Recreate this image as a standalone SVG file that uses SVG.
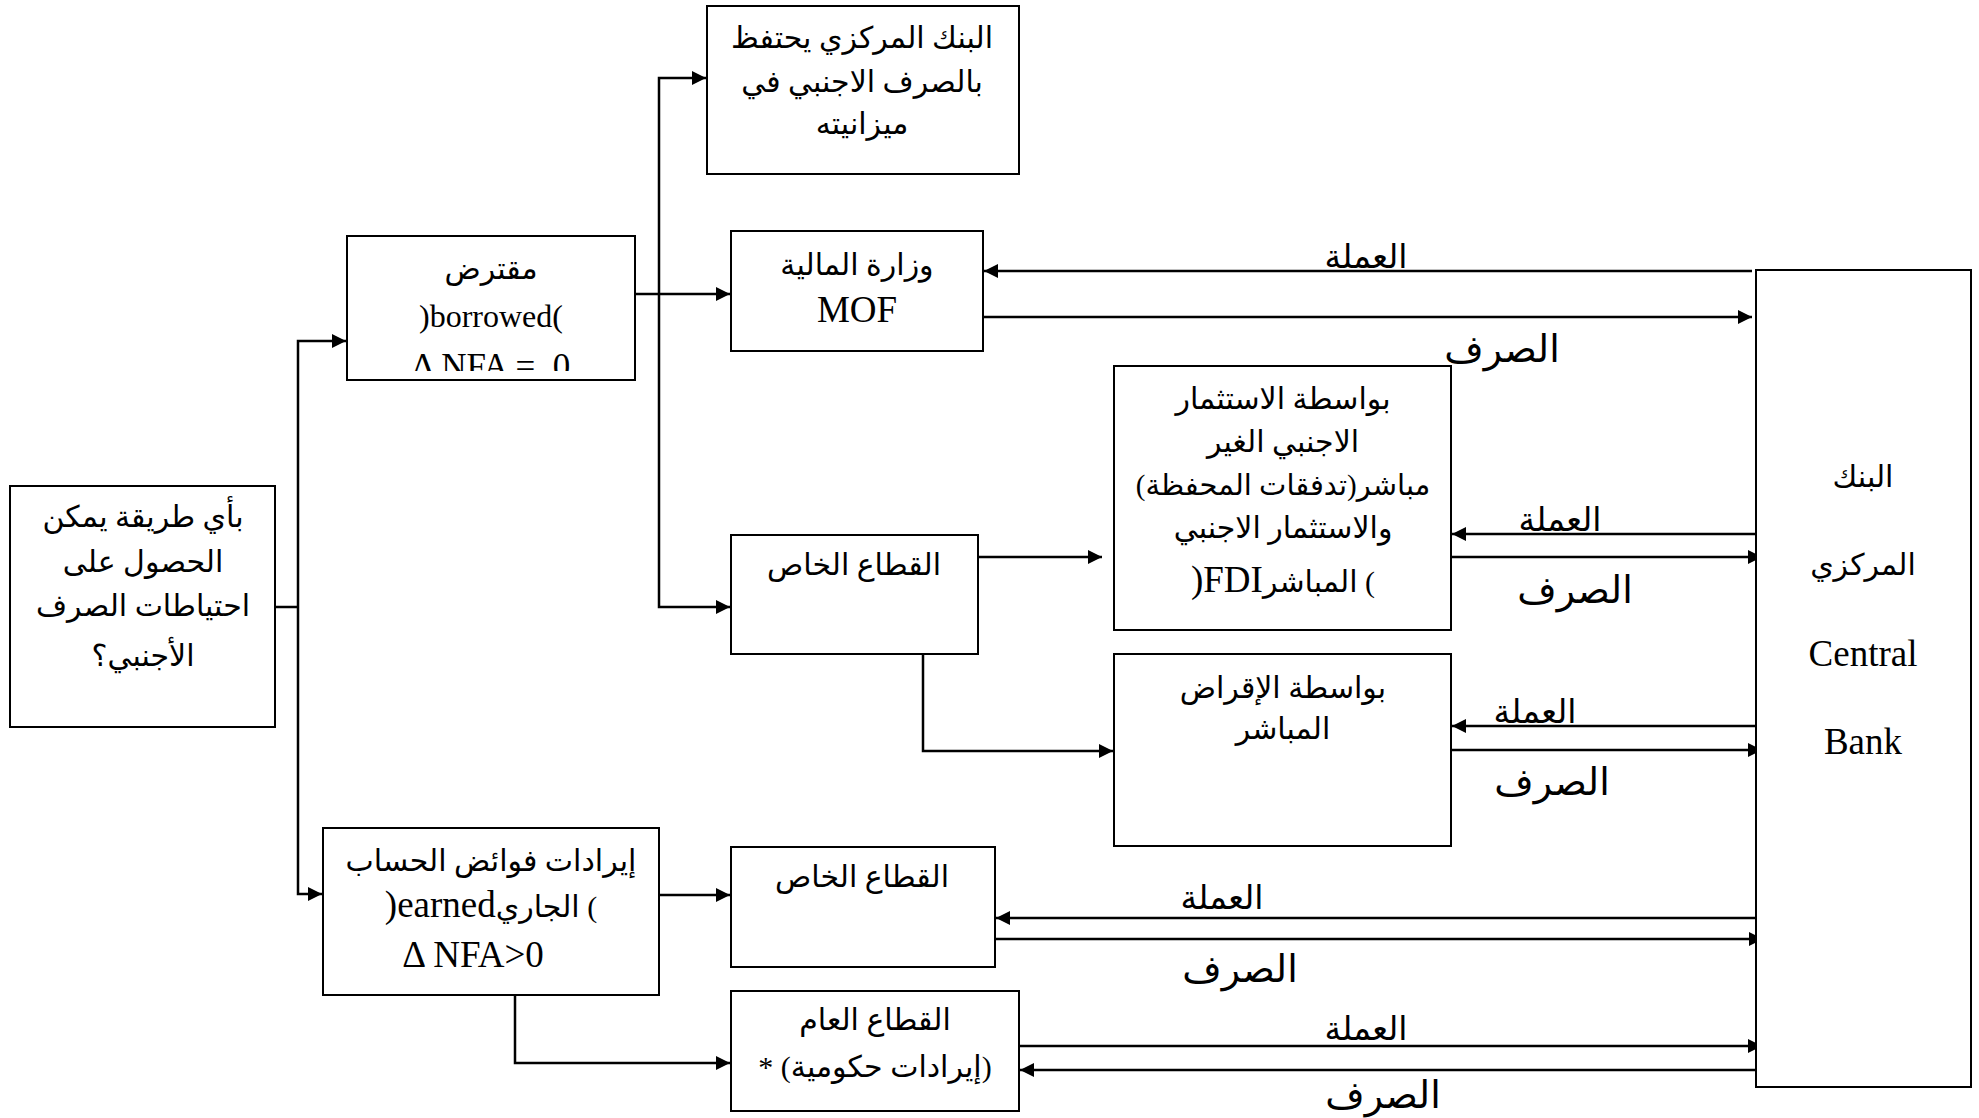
<svg xmlns="http://www.w3.org/2000/svg" width="1979" height="1118" viewBox="0 0 1979 1118">
<defs>
<marker id="ah" viewBox="0 0 10 10" refX="10" refY="5" markerWidth="16" markerHeight="14" markerUnits="userSpaceOnUse" orient="auto">
<path d="M0,0 L10,5 L0,10 z" fill="#000"/>
</marker>
<clipPath id="clipB"><rect x="347" y="236" width="288" height="135"/></clipPath>
</defs>
<style>
.box{fill:#fff;stroke:#000;stroke-width:2}
.ln{fill:none;stroke:#000;stroke-width:2.5}
.arr{fill:none;stroke:#000;stroke-width:2.5;marker-end:url(#ah)}
text{font-family:"Liberation Serif","DejaVu Sans",serif;fill:#000;text-anchor:middle}
.a{font-size:30px}
.l{font-size:37px}
.lb{font-size:32px}
.cur{font-size:33px}
.ex{font-size:38px}
</style>
<rect width="1979" height="1118" fill="#fff"/>

<g id="connectors">
<path class="ln" d="M275,607 H298"/>
<path class="arr" d="M298,607 V341 H346"/>
<path class="arr" d="M298,607 V894 H322"/>
<path class="ln" d="M635,294 H659"/>
<path class="arr" d="M659,294 V78 H706"/>
<path class="arr" d="M659,294 H730"/>
<path class="arr" d="M659,294 V607 H730"/>
<path class="arr" d="M978,557 H1102"/>
<path class="arr" d="M923,654 V751 H1113"/>
<path class="arr" d="M659,895 H730"/>
<path class="arr" d="M515,993 V1063 H730"/>
<path class="arr" d="M1752,271 H984"/>
<path class="arr" d="M983,317 H1752"/>
<path class="arr" d="M1761,534 H1452"/>
<path class="arr" d="M1451,557 H1762"/>
<path class="arr" d="M1759,726 H1452"/>
<path class="arr" d="M1451,750 H1762"/>
<path class="arr" d="M1764,918 H996"/>
<path class="arr" d="M995,939 H1763"/>
<path class="arr" d="M1019,1046 H1762"/>
<path class="arr" d="M1761,1070 H1020"/>
<text class="cur" x="1366" y="268">العملة</text>
<text class="ex" x="1502" y="362">الصرف</text>
<text class="cur" x="1560" y="531">العملة</text>
<text class="ex" x="1575" y="603">الصرف</text>
<text class="cur" x="1535" y="723">العملة</text>
<text class="ex" x="1552" y="795">الصرف</text>
<text class="cur" x="1222" y="909">العملة</text>
<text class="ex" x="1240" y="982">الصرف</text>
<text class="cur" x="1366" y="1040">العملة</text>
<text class="ex" x="1383" y="1108">الصرف</text>
</g>

<g id="question">
<rect class="box" x="10" y="486" width="265" height="241"/>
<text class="a" x="143" y="527" direction="rtl">بأي طريقة يمكن</text>
<text class="a" x="143" y="572" direction="rtl">الحصول على</text>
<text class="a" x="143" y="616" direction="rtl">احتياطات الصرف</text>
<text class="a" x="143" y="666" direction="rtl">الأجنبي؟</text>
</g>

<g id="borrowed">
<rect class="box" x="347" y="236" width="288" height="144"/>
<text class="a" x="491" y="279" direction="rtl">مقترض</text>
<text class="lb" x="491" y="327">)borrowed(</text>
<text class="l" x="491" y="378" clip-path="url(#clipB)" style="font-size:35px" xml:space="preserve">Δ NFA =  0</text>
</g>

<g id="cb-holds">
<rect class="box" x="707" y="6" width="312" height="168"/>
<text class="a" x="862" y="48" direction="rtl">البنك المركزي يحتفظ</text>
<text class="a" x="862" y="92" direction="rtl">بالصرف الاجنبي في</text>
<text class="a" x="862" y="134" direction="rtl">ميزانيته</text>
</g>

<g id="mof">
<rect class="box" x="731" y="231" width="252" height="120"/>
<text class="a" x="857" y="275" direction="rtl">وزارة المالية</text>
<text class="l" x="857" y="322">MOF</text>
</g>

<g id="private1">
<rect class="box" x="731" y="535" width="247" height="119"/>
<text class="a" x="854" y="575" direction="rtl">القطاع الخاص</text>
</g>

<g id="fdi">
<rect class="box" x="1114" y="366" width="337" height="264"/>
<text class="a" x="1283" y="409" direction="rtl">بواسطة الاستثمار</text>
<text class="a" x="1283" y="452" direction="rtl">الاجنبي الغير</text>
<text class="a" x="1283" y="495" direction="rtl" style="font-size:29px">مباشر(تدفقات المحفظة)</text>
<text class="a" x="1283" y="538" direction="rtl">والاستثمار الاجنبي</text>
<text class="a" x="1283" y="592"><tspan class="l">)FDI</tspan>المباشر (</text>
</g>

<g id="lending">
<rect class="box" x="1114" y="654" width="337" height="192"/>
<text class="a" x="1283" y="698" direction="rtl">بواسطة الإقراض</text>
<text class="a" x="1283" y="739" direction="rtl">المباشر</text>
</g>

<g id="earned">
<rect class="box" x="323" y="828" width="336" height="167"/>
<text class="a" x="491" y="871" direction="rtl">إيرادات فوائض الحساب</text>
<text class="a" x="491" y="917"><tspan class="l">)earned</tspan>الجاري (</text>
<text class="l" x="473" y="967">Δ NFA&gt;0</text>
</g>

<g id="private2">
<rect class="box" x="731" y="847" width="264" height="120"/>
<text class="a" x="862" y="887" direction="rtl">القطاع الخاص</text>
</g>

<g id="public">
<rect class="box" x="731" y="991" width="288" height="120"/>
<text class="a" x="875" y="1030" direction="rtl">القطاع العام</text>
<text class="a" x="875" y="1077" direction="rtl">(إيرادات حكومية) *</text>
</g>

<g id="central-bank">
<rect class="box" x="1756" y="270" width="215" height="817"/>
<text class="a" x="1863" y="487" direction="rtl">البنك</text>
<text class="a" x="1863" y="575" direction="rtl">المركزي</text>
<text class="l" x="1863" y="666">Central</text>
<text class="l" x="1863" y="754">Bank</text>
</g>
</svg>
